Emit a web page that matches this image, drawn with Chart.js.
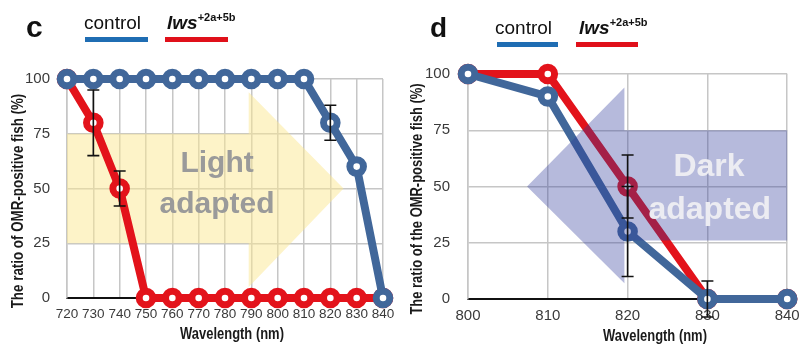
<!DOCTYPE html>
<html>
<head>
<meta charset="utf-8">
<script src="https://cdn.jsdelivr.net/npm/chart.js@4.4.1/dist/chart.umd.min.js"></script>
<style>
  body { margin: 0; background: #fff; width: 801px; height: 345px; overflow: hidden; position: relative;
         font-family: "Liberation Sans", Arial, sans-serif; }
  .panel { position: absolute; top: 0; height: 345px; }
  #panelC { left: 0; width: 400px; }
  #panelD { left: 400px; width: 401px; }
  .lbl { position: absolute; white-space: nowrap; line-height: 1; color: #111; }
  .bar { position: absolute; height: 5px; }
  sup { font-size: 11px; font-style: normal; position: relative; top: -1px; }
</style>
</head>
<body>
<div class="panel" id="panelC"><canvas id="chartC" width="400" height="345"></canvas></div>
<div class="panel" id="panelD"><canvas id="chartD" width="401" height="345"></canvas></div>

<!-- legends and panel letters -->
<div class="lbl" style="left:26px;top:12px;font-size:30px;font-weight:bold;">c</div>
<div class="lbl" style="left:84px;top:13px;font-size:19px;">control</div>
<div class="lbl" style="left:167px;top:13px;font-size:19px;font-weight:bold;font-style:italic;">lws<sup>+2a+5b</sup></div>
<div class="bar" style="left:85px;top:37px;width:63px;background:#1f6db3;"></div>
<div class="bar" style="left:165px;top:37px;width:63px;background:#e0101a;"></div>

<div class="lbl" style="left:430px;top:14px;font-size:28px;font-weight:bold;">d</div>
<div class="lbl" style="left:495px;top:18px;font-size:19px;">control</div>
<div class="lbl" style="left:579px;top:18px;font-size:19px;font-weight:bold;font-style:italic;">lws<sup>+2a+5b</sup></div>
<div class="bar" style="left:497px;top:42px;width:61px;background:#1f6db3;"></div>
<div class="bar" style="left:576px;top:42px;width:62px;background:#e0101a;"></div>

<script>
// panel c - light adapted
const wavelengthC = [720, 730, 740, 750, 760, 770, 780, 790, 800, 810, 820, 830, 840];
const controlC    = [100, 100, 100, 100, 100, 100, 100, 100, 100, 100, 80, 60, 0];
const lwsC        = [100, 80, 50, 0, 0, 0, 0, 0, 0, 0, 0, 0, 0];
const controlErrC = [null, null, null, null, null, null, null, null, null, null, 8, null, null];
const lwsErrC     = [null, 15, 8, null, null, null, null, null, null, null, null, null, null];

// panel d - dark adapted
const wavelengthD = [800, 810, 820, 830, 840];
const controlD    = [100, 90, 30, 0, 0];
const lwsD        = [100, 100, 50, 0, 0];
const controlErrD = [null, null, 20, 8, null];
const lwsErrD     = [null, null, 14, null, null];

const yTicks = [0, 25, 50, 75, 100];

const BLUE = '#41679a';
const RED = '#e3131b';
const GRID = '#c6c6c6';
const FONT = '"Liberation Sans", Arial, sans-serif';

Chart.defaults.font.family = FONT;

function drawArrow(chart, a) {
    const xs = chart.scales.x, ys = chart.scales.y, ctx = chart.ctx;
    ctx.save();
    ctx.fillStyle = a.color;
    ctx.beginPath();
    ctx.moveTo(xs.getPixelForValue(a.x0), ys.getPixelForValue(a.y1));
    ctx.lineTo(xs.getPixelForValue(a.x1), ys.getPixelForValue(a.y1));
    ctx.lineTo(xs.getPixelForValue(a.x1), ys.getPixelForValue(a.headTop));
    ctx.lineTo(xs.getPixelForValue(a.tipX), ys.getPixelForValue(a.tipY));
    ctx.lineTo(xs.getPixelForValue(a.x1), ys.getPixelForValue(a.headBottom));
    ctx.lineTo(xs.getPixelForValue(a.x1), ys.getPixelForValue(a.y0));
    ctx.lineTo(xs.getPixelForValue(a.x0), ys.getPixelForValue(a.y0));
    ctx.closePath();
    ctx.fill();
    ctx.restore();
}

function drawErrors(chart, list) {
    const xs = chart.scales.x, ys = chart.scales.y, ctx = chart.ctx;
    ctx.save();
    ctx.strokeStyle = '#111';
    ctx.lineWidth = 1.6;
    list.forEach(function (item) {
        const ds = chart.data.datasets[item.datasetIndex];
        ds.data.forEach(function (p, i) {
            const e = item.err[i];
            if (!e) return;
            const x = xs.getPixelForValue(p.x);
            const yt = ys.getPixelForValue(p.y + e);
            const yb = ys.getPixelForValue(p.y - e);
            ctx.beginPath();
            ctx.moveTo(x, yt); ctx.lineTo(x, yb);
            ctx.moveTo(x - 6, yt); ctx.lineTo(x + 6, yt);
            ctx.moveTo(x - 6, yb); ctx.lineTo(x + 6, yb);
            ctx.stroke();
        });
    });
    ctx.restore();
}

function drawWords(chart, w) {
    const xs = chart.scales.x, ys = chart.scales.y, ctx = chart.ctx;
    ctx.save();
    ctx.font = 'bold ' + w.size + 'px ' + FONT;
    ctx.fillStyle = w.color;
    ctx.textAlign = 'center';
    ctx.textBaseline = 'alphabetic';
    w.lines.forEach(function (l) {
        ctx.fillText(l.text, xs.getPixelForValue(l.x), ys.getPixelForValue(l.y));
    });
    ctx.restore();
}

// axis titles in a condensed bold face (squeezed along the text direction)
function drawTitles(chart, t) {
    const ctx = chart.ctx;
    ctx.save();
    ctx.fillStyle = '#1a1a1a';
    ctx.textAlign = 'center';
    ctx.textBaseline = 'middle';
    ctx.font = 'bold 16px ' + FONT;
    ctx.save();
    ctx.translate(t.x.cx, t.x.cy);
    ctx.scale(0.81, 1);
    ctx.fillText(t.x.text, 0, 0);
    ctx.restore();
    ctx.font = 'bold ' + t.y.size + 'px ' + FONT;
    ctx.translate(t.y.cx, t.y.cy);
    ctx.rotate(-Math.PI / 2);
    ctx.scale(0.81, 1);
    ctx.fillText(t.y.text, 0, 0);
    ctx.restore();
}

const overlayPlugin = {
    id: 'overlay',
    beforeDatasetsDraw(chart, args, opts) {
        if (opts.arrow && !opts.arrowOnTop) drawArrow(chart, opts.arrow);
    },
    afterDatasetsDraw(chart, args, opts) {
        if (opts.arrow && opts.arrowOnTop) drawArrow(chart, opts.arrow);
        drawErrors(chart, opts.errors);
        drawWords(chart, opts.words);
        drawTitles(chart, opts.titles);
    }
};

function series(xs, ys) {
    return xs.map(function (x, i) { return { x: x, y: ys[i] }; });
}

function lineSet(label, xs, ys, color) {
    return {
        label: label,
        data: series(xs, ys),
        borderColor: color,
        borderWidth: 8,
        pointRadius: 6.8,
        pointHoverRadius: 6.8,
        pointBorderWidth: 7,
        pointBorderColor: color,
        pointBackgroundColor: '#fff',
        tension: 0,
        clip: false
    };
}

function makePanel(id, p) {
    return new Chart(document.getElementById(id), {
        type: 'line',
        data: {
            datasets: [
                lineSet('control', p.xs, p.control, BLUE),
                lineSet('lws+2a+5b', p.xs, p.lws, RED)
            ]
        },
        plugins: [overlayPlugin],
        options: {
            responsive: false,
            animation: false,
            devicePixelRatio: 1,
            layout: { padding: { left: 0, right: p.padRight, top: p.padTop, bottom: 0 } },
            scales: {
                x: {
                    type: 'linear',
                    min: p.xs[0],
                    max: p.xs[p.xs.length - 1],
                    afterBuildTicks: function (s) { s.ticks = p.xs.map(function (v) { return { value: v }; }); },
                    afterFit: function (s) { s.height = p.xHeight; s.paddingLeft = 0; s.paddingRight = 0; },
                    grid: { color: GRID, lineWidth: 1.5, drawTicks: false },
                    border: { color: '#111', width: 2 },
                    ticks: { autoSkip: false, maxRotation: 0, padding: 8, color: '#3a3a3a', font: { size: p.xFont } }
                },
                y: {
                    min: 0,
                    max: 100,
                    afterBuildTicks: function (s) { s.ticks = yTicks.map(function (v) { return { value: v }; }); },
                    afterFit: function (s) { s.width = p.yWidth; },
                    grid: { color: GRID, lineWidth: 1.5, drawTicks: false },
                    border: { color: GRID, width: 1.5 },
                    ticks: { padding: p.yPad, color: '#3a3a3a', font: { size: 15 } }
                }
            },
            plugins: {
                legend: { display: false },
                tooltip: { enabled: false },
                overlay: {
                    arrow: p.arrow,
                    arrowOnTop: p.arrowOnTop,
                    errors: [
                        { datasetIndex: 0, err: p.controlErr },
                        { datasetIndex: 1, err: p.lwsErr }
                    ],
                    words: p.words,
                    titles: p.titles
                }
            }
        }
    });
}

makePanel('chartC', {
    xs: wavelengthC, control: controlC, lws: lwsC, controlErr: controlErrC, lwsErr: lwsErrC,
    padRight: 17, padTop: 79, xHeight: 47, yWidth: 67, yPad: 17, xFont: 13.5,
    arrow: { x0: 720, x1: 789, y0: 25, y1: 75, headTop: 94, headBottom: 5, tipX: 825, tipY: 50,
             color: 'rgba(251, 231, 145, 0.5)' },
    arrowOnTop: false,
    words: { size: 30, color: '#9a9a9a', lines: [
        { text: 'Light', x: 777, y: 57.5 },
        { text: 'adapted', x: 777, y: 39 }
    ] },
    titles: {
        x: { text: 'Wavelength (nm)', cx: 232, cy: 335 },
        y: { text: 'The ratio of OMR-positive fish (%)', cx: 18, cy: 201, size: 16.5 }
    }
});

makePanel('chartD', {
    xs: wavelengthD, control: controlD, lws: lwsD, controlErr: controlErrD, lwsErr: lwsErrD,
    padRight: 8, padTop: 74, xHeight: 46, yWidth: 68, yPad: 18, xFont: 15,
    arrow: { x0: 840, x1: 819.6, y0: 26, y1: 75, headTop: 94, headBottom: 7, tipX: 807.4, tipY: 50,
             color: 'rgba(46, 58, 155, 0.35)' },
    arrowOnTop: true,
    words: { size: 32, color: '#ececf2', lines: [
        { text: 'Dark', x: 830.2, y: 54.5 },
        { text: 'adapted', x: 830.3, y: 35.5 }
    ] },
    titles: {
        x: { text: 'Wavelength (nm)', cx: 255, cy: 337 },
        y: { text: 'The ratio of the OMR-positive fish (%)', cx: 18, cy: 199, size: 16 }
    }
});
</script>
</body>
</html>
